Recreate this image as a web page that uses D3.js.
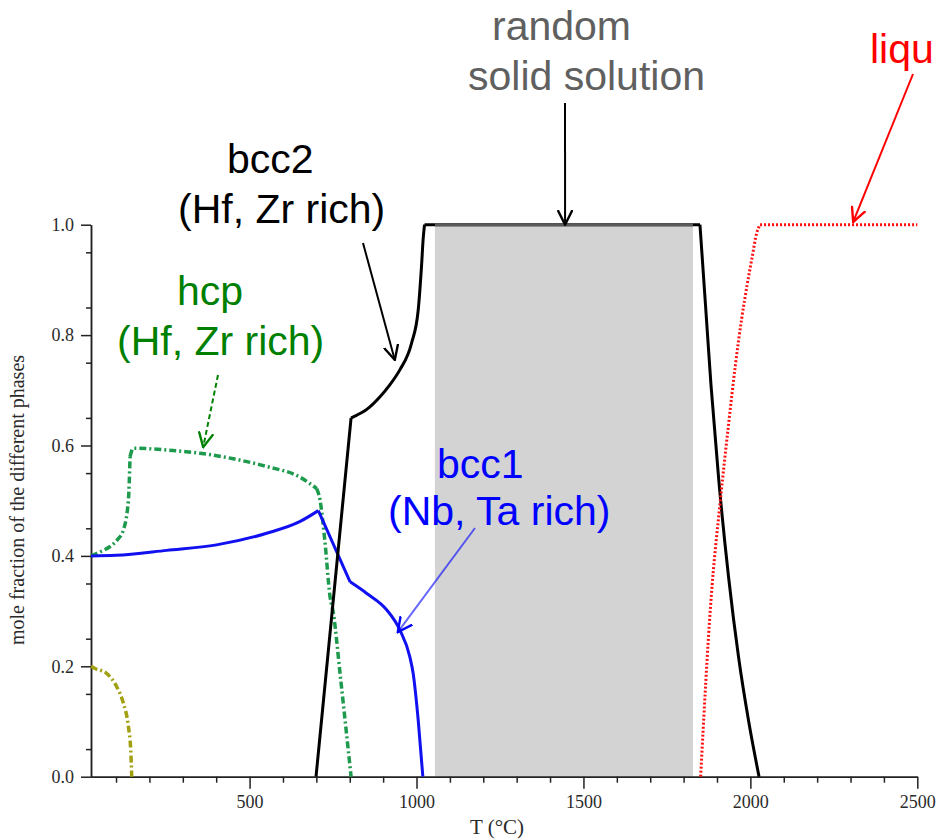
<!DOCTYPE html>
<html>
<head>
<meta charset="utf-8">
<script src="https://cdn.jsdelivr.net/npm/d3@7"></script>
<style>
  body { margin: 0; background: #fff; }
  .tick text { font-family: "Liberation Serif", "DejaVu Serif", serif; font-size: 18px; fill: #2a2a2a; }
  .note { font-family: "Liberation Sans", Arial, sans-serif; font-size: 41px; }
</style>
</head>
<body>
<svg width="936" height="839"></svg>
<script>
// phase fractions (T in °C, mole fraction)
var bcc2T = [699, 804, 811, 850, 890, 920, 950, 985, 1005, 1015, 1020, 1024, 1849, 1865, 1882, 1905, 1935, 1965, 1995, 2026];
var bcc2V = [0, 0.65, 0.652, 0.665, 0.688, 0.71, 0.737, 0.785, 0.845, 0.925, 0.975, 1.0, 1.0, 0.86, 0.71, 0.54, 0.36, 0.215, 0.1, 0];
var bcc2Kinks = [804, 1024, 1849];

var bcc1T = [25, 100, 252, 401, 551, 650, 706, 801, 851, 911, 950, 980, 990, 1005, 1019];
var bcc1V = [0.4, 0.401, 0.41, 0.42, 0.441, 0.462, 0.482, 0.353, 0.332, 0.302, 0.266, 0.217, 0.187, 0.103, 0];
var bcc1Kinks = [706, 801];

var hcpT = [25, 55, 82, 105, 122, 137, 142, 152, 250, 351, 451, 551, 650, 701, 711, 725, 741, 751, 771, 790, 804];
var hcpV = [0.4, 0.408, 0.417, 0.43, 0.447, 0.501, 0.58, 0.595, 0.592, 0.586, 0.576, 0.562, 0.543, 0.522, 0.501, 0.43, 0.326, 0.296, 0.187, 0.08, 0];
var hcpKinks = [142, 701];

var otherT = [25, 37, 72, 102, 122, 137, 144, 147];
var otherV = [0.2, 0.196, 0.187, 0.163, 0.133, 0.091, 0.048, 0];
var otherKinks = [];

var liqT = [1851, 1882, 1910, 1935, 1955, 1974, 1990, 2005, 2019, 2029, 2500];
var liqV = [0, 0.32, 0.5, 0.64, 0.745, 0.83, 0.89, 0.94, 0.985, 1.0, 1.0];
var liqKinks = [2029];

var shadeT = [1055, 1828];   // random solid solution range

var xMajor = [500, 1000, 1500, 2000, 2500];
var yMajor = [0, 0.2, 0.4, 0.6, 0.8, 1.0];

var svg = d3.select("svg");

var x = d3.scaleLinear().domain([25, 2500]).range([91, 917.3]);
var y = d3.scaleLinear().domain([0, 1]).range([776.7, 224.7]);

// split a series into smooth pieces at its kinks
function pieces(ts, vs, kinks) {
  var out = [], cur = [];
  ts.forEach(function(t, i) {
    cur.push([t, vs[i]]);
    if (kinks.indexOf(t) != -1 && i > 0 && i < ts.length - 1) {
      out.push(cur);
      cur = [[t, vs[i]]];
    }
  });
  out.push(cur);
  return out;
}

var line = d3.line()
  .curve(d3.curveMonotoneX)
  .x(function(d) { return x(d[0]); })
  .y(function(d) { return y(d[1]); });

function series(ts, vs, kinks) {
  return pieces(ts, vs, kinks).map(function(p) { return line(p); }).join("");
}

// shaded region
svg.append("rect")
  .attr("x", x(shadeT[0]))
  .attr("y", y(1))
  .attr("width", x(shadeT[1]) - x(shadeT[0]))
  .attr("height", y(0) - y(1))
  .attr("fill", "#d3d3d3");

// axes
var minorX = d3.range(100, 2501, 100).filter(function(t) { return t % 500 != 0; });
var minorY = d3.range(0.05, 1, 0.1);

svg.append("g")
  .attr("transform", "translate(0," + y(0) + ")")
  .call(d3.axisBottom(x).tickValues(minorX).tickSize(6).tickSizeOuter(0).tickFormat(""));
svg.append("g")
  .attr("transform", "translate(0," + y(0) + ")")
  .call(d3.axisBottom(x).tickValues(xMajor).tickSize(12).tickSizeOuter(0).tickPadding(7).tickFormat(d3.format("d")));

svg.append("g")
  .attr("transform", "translate(" + x(25) + ",0)")
  .call(d3.axisLeft(y).tickValues(minorY).tickSize(5).tickSizeOuter(0).tickFormat(""));
svg.append("g")
  .attr("transform", "translate(" + x(25) + ",0)")
  .call(d3.axisLeft(y).tickValues(yMajor).tickSize(10).tickSizeOuter(0).tickPadding(7).tickFormat(d3.format(".1f")));

svg.selectAll(".domain, .tick line").attr("stroke", "#222").attr("stroke-width", 1.5);

svg.append("text")
  .attr("x", 497).attr("y", 834)
  .attr("text-anchor", "middle")
  .style("font-family", "Liberation Serif, serif").style("font-size", "21px").style("fill", "#2a2a2a")
  .text("T (°C)");

svg.append("text")
  .attr("transform", "translate(24,500) rotate(-90)")
  .attr("text-anchor", "middle")
  .style("font-family", "Liberation Serif, serif").style("font-size", "20px").style("fill", "#2a2a2a")
  .text("mole fraction of the different phases");

// curves
svg.append("path").attr("d", series(otherT, otherV, otherKinks))
  .attr("fill", "none").attr("stroke", "#a0a010").attr("stroke-width", 3.5)
  .attr("stroke-dasharray", "7,3,2,3");
svg.append("path").attr("d", series(hcpT, hcpV, hcpKinks))
  .attr("fill", "none").attr("stroke", "#1e9a4e").attr("stroke-width", 3.5)
  .attr("stroke-dasharray", "7,3,2,3");
svg.append("path").attr("d", series(bcc1T, bcc1V, bcc1Kinks))
  .attr("fill", "none").attr("stroke", "#1010f0").attr("stroke-width", 3);
svg.append("path").attr("d", series(bcc2T, bcc2V, bcc2Kinks))
  .attr("fill", "none").attr("stroke", "#000").attr("stroke-width", 3);
svg.append("path").attr("d", series(liqT, liqV, liqKinks))
  .attr("fill", "none").attr("stroke", "#ff1010").attr("stroke-width", 3)
  .attr("stroke-dasharray", "2,2");

// top edge over the shaded block
svg.append("line")
  .attr("x1", x(shadeT[0])).attr("x2", x(shadeT[1]))
  .attr("y1", y(1)).attr("y2", y(1))
  .attr("stroke", "#5a5a5a").attr("stroke-width", 3);

// arrow heads
var defs = svg.append("defs");
["black", "green", "blue", "red"].forEach(function(c) {
  var col = { black: "#000", green: "#008000", blue: "#0000ff", red: "#ff0000" }[c];
  defs.append("marker")
    .attr("id", "head-" + c)
    .attr("viewBox", "0 -6 12 12")
    .attr("refX", 11).attr("refY", 0)
    .attr("markerWidth", 16).attr("markerHeight", 16)
    .attr("markerUnits", "userSpaceOnUse")
    .attr("orient", "auto")
    .append("path")
    .attr("d", "M0,-5.5L11,0L0,5.5")
    .attr("fill", "none").attr("stroke", col).attr("stroke-width", 1.8);
});

function arrow(x1, y1, t, v, c, col, dash, op) {
  svg.append("line")
    .attr("x1", x1).attr("y1", y1)
    .attr("x2", x(t)).attr("y2", y(v))
    .attr("stroke", col).attr("stroke-width", 2)
    .attr("stroke-opacity", op || 1)
    .attr("stroke-dasharray", dash || null)
    .attr("marker-end", "url(#head-" + c + ")");
}

function note(lines, col) {
  lines.forEach(function(l) {
    svg.append("text").attr("class", "note")
      .attr("x", l[1]).attr("y", l[2])
      .style("fill", col)
      .text(l[0]);
  });
}

note([["random", 492, 40], ["solid solution", 468, 90]], "#606060");
arrow(565, 103, 1445, 1.0, "black", "#000");

note([["liqu", 870, 63]], "#ff0000");
arrow(913, 74, 2308, 1.005, "red", "#ff0000");

note([["bcc2", 227, 173], ["(Hf, Zr rich)", 178, 223]], "#000");
arrow(363, 243, 935, 0.755, "black", "#000");

note([["hcp", 177, 305], ["(Hf, Zr rich)", 117, 355]], "#008000");
arrow(218, 375, 361, 0.597, "green", "#008000", "5,3");

note([["bcc1", 437, 478], ["(Nb, Ta rich)", 388, 525]], "#0000ff");
arrow(475, 528, 944, 0.262, "blue", "#0000ff", null, 0.6);
</script>
</body>
</html>
